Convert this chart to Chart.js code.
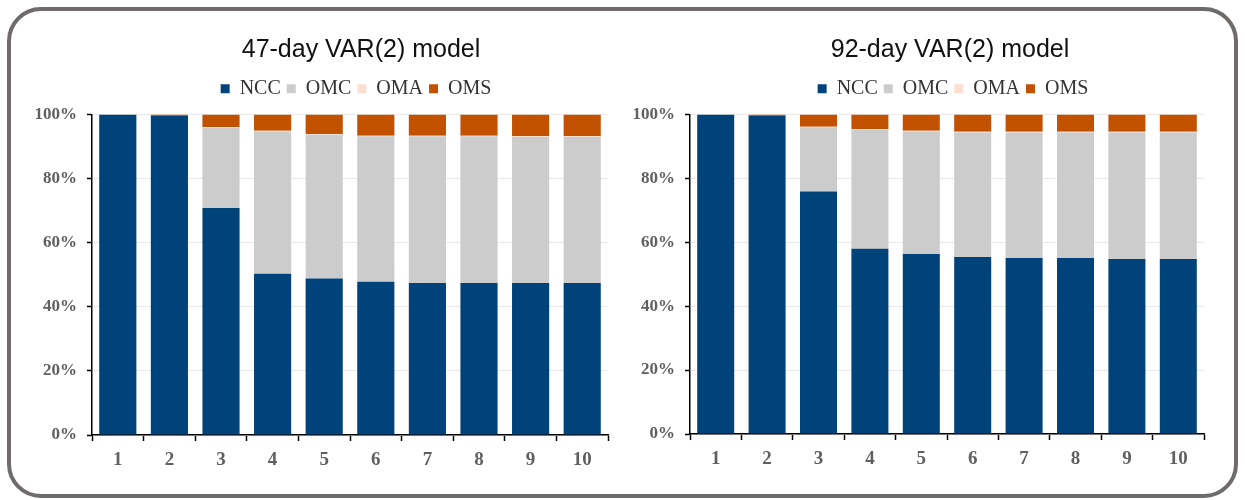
<!DOCTYPE html>
<html>
<head>
<meta charset="utf-8">
<script src="https://cdn.jsdelivr.net/npm/chart.js@4/dist/chart.umd.min.js"></script>
<style>
  html, body { margin: 0; padding: 0; background: #ffffff; }
  #wrap { position: relative; width: 1245px; height: 500px; overflow: hidden; background: #ffffff; }
  #frame {
    position: absolute; left: 7px; top: 7px; width: 1231px; height: 491px;
    box-sizing: border-box; border: 4px solid #6f6b6b; border-radius: 34px;
  }
  canvas { position: absolute; top: 0; }
  #c47 { left: 0; }
  #c92 { left: 600px; }
</style>
</head>
<body>
<div id="wrap">
  <div id="frame"></div>
  <canvas id="c47" width="640" height="500"></canvas>
  <canvas id="c92" width="640" height="500"></canvas>
</div>
<script>
// Forecast horizons (days ahead)
const horizons = ['1', '2', '3', '4', '5', '6', '7', '8', '9', '10'];
const seriesNames = ['NCC', 'OMC', 'OMA', 'OMS'];
const yTicks = [0, 20, 40, 60, 80, 100];

// Variance decomposition shares (%) — 47-day VAR(2) model
const ncc47 = [100, 99.7, 70.8, 50.3, 48.8, 47.8, 47.4, 47.4, 47.4, 47.4];
const omc47 = [0, 0, 25.0, 44.4, 44.9, 45.4, 45.8, 45.8, 45.6, 45.6];
const oma47 = [0, 0, 0.2, 0.2, 0.2, 0.2, 0.2, 0.2, 0.3, 0.3];
const oms47 = [0, 0.3, 4.0, 5.1, 6.1, 6.6, 6.6, 6.6, 6.7, 6.7];

// Variance decomposition shares (%) — 92-day VAR(2) model
const ncc92 = [100, 99.6, 75.9, 58.0, 56.3, 55.4, 55.1, 55.1, 54.8, 54.8];
const omc92 = [0, 0, 20.1, 37.3, 38.4, 39.0, 39.3, 39.3, 39.6, 39.6];
const oma92 = [0, 0, 0.2, 0.2, 0.2, 0.2, 0.2, 0.2, 0.2, 0.2];
const oms92 = [0, 0.4, 3.8, 4.5, 5.1, 5.4, 5.4, 5.4, 5.4, 5.4];

const colors = ['#00437a', '#cccccc', '#fbe0d1', '#c25100'];

const serif = "'Liberation Serif', 'Times New Roman', serif";
const sans = "'Liberation Sans', Arial, sans-serif";

// Small helper to fine-tune where the title and legend sit after layout
const nudgePlugin = {
  id: 'nudge',
  afterLayout(chart, args, opts) {
    const t = chart.titleBlock;
    const l = chart.legend;
    if (t) {
      t.left += opts.titleX || 0;
      t.right += opts.titleX || 0;
    }
    if (l) {
      l.left += opts.legendX || 0;
      l.right += opts.legendX || 0;
      l.top += opts.legendY || 0;
      l.bottom += opts.legendY || 0;
    }
  }
};

function makeChart(id, title, series, geom) {
  const datasets = series.map((vals, i) => ({
    label: seriesNames[i],
    data: vals,
    backgroundColor: colors[i],
    borderWidth: 0,
    categoryPercentage: 0.8,
    barPercentage: 0.9
  }));
  return new Chart(document.getElementById(id), {
    type: 'bar',
    data: { labels: horizons, datasets },
    plugins: [nudgePlugin],
    options: {
      responsive: false,
      animation: false,
      layout: { padding: { left: 0, right: geom.padRight, top: 0, bottom: 0 } },
      plugins: {
        tooltip: { enabled: false },
        title: {
          display: true,
          text: title,
          color: '#111111',
          font: { family: sans, size: 25, weight: 'normal', lineHeight: 1.2 },
          padding: { top: 35, bottom: 13.5 },
          fullSize: false
        },
        legend: {
          display: true,
          position: 'top',
          fullSize: false,
          labels: {
            color: '#333333',
            font: { family: serif, size: 20 },
            boxWidth: 9,
            boxHeight: 9,
            padding: 6
          }
        },
        nudge: { titleX: geom.titleX, legendX: geom.legendX, legendY: -5.8 }
      },
      scales: {
        x: {
          stacked: true,
          offset: true,
          afterFit: (s) => { s.height = geom.xHeight; },
          grid: {
            offset: true,
            drawOnChartArea: false,
            tickColor: '#000000',
            tickLength: 6,
            tickWidth: 1.5
          },
          border: { color: '#000000', width: 1.5 },
          ticks: {
            color: '#606060',
            padding: 8,
            font: { family: serif, size: 19, weight: 'bold' }
          }
        },
        y: {
          stacked: true,
          min: 0,
          max: 100,
          afterFit: (s) => { s.width = geom.yWidth; },
          afterBuildTicks: (s) => { s.ticks = yTicks.map(v => ({ value: v })); },
          grid: {
            color: '#e8e8e8',
            lineWidth: 1,
            tickColor: '#000000',
            tickLength: 5,
            tickWidth: 1.5
          },
          border: { color: '#000000', width: 1.5 },
          ticks: {
            color: '#606060',
            padding: 10,
            font: { family: serif, size: 17, weight: 'bold' },
            callback: (v) => v + '%'
          }
        }
      }
    }
  });
}

makeChart('c47', '47-day VAR(2) model', [ncc47, omc47, oma47, oms47],
  { padRight: 32, yWidth: 92, xHeight: 65, titleX: 11, legendX: 6 });
makeChart('c92', '92-day VAR(2) model', [ncc92, omc92, oma92, oms92],
  { padRight: 36, yWidth: 90, xHeight: 66, titleX: 3, legendX: 6 });
</script>
</body>
</html>
